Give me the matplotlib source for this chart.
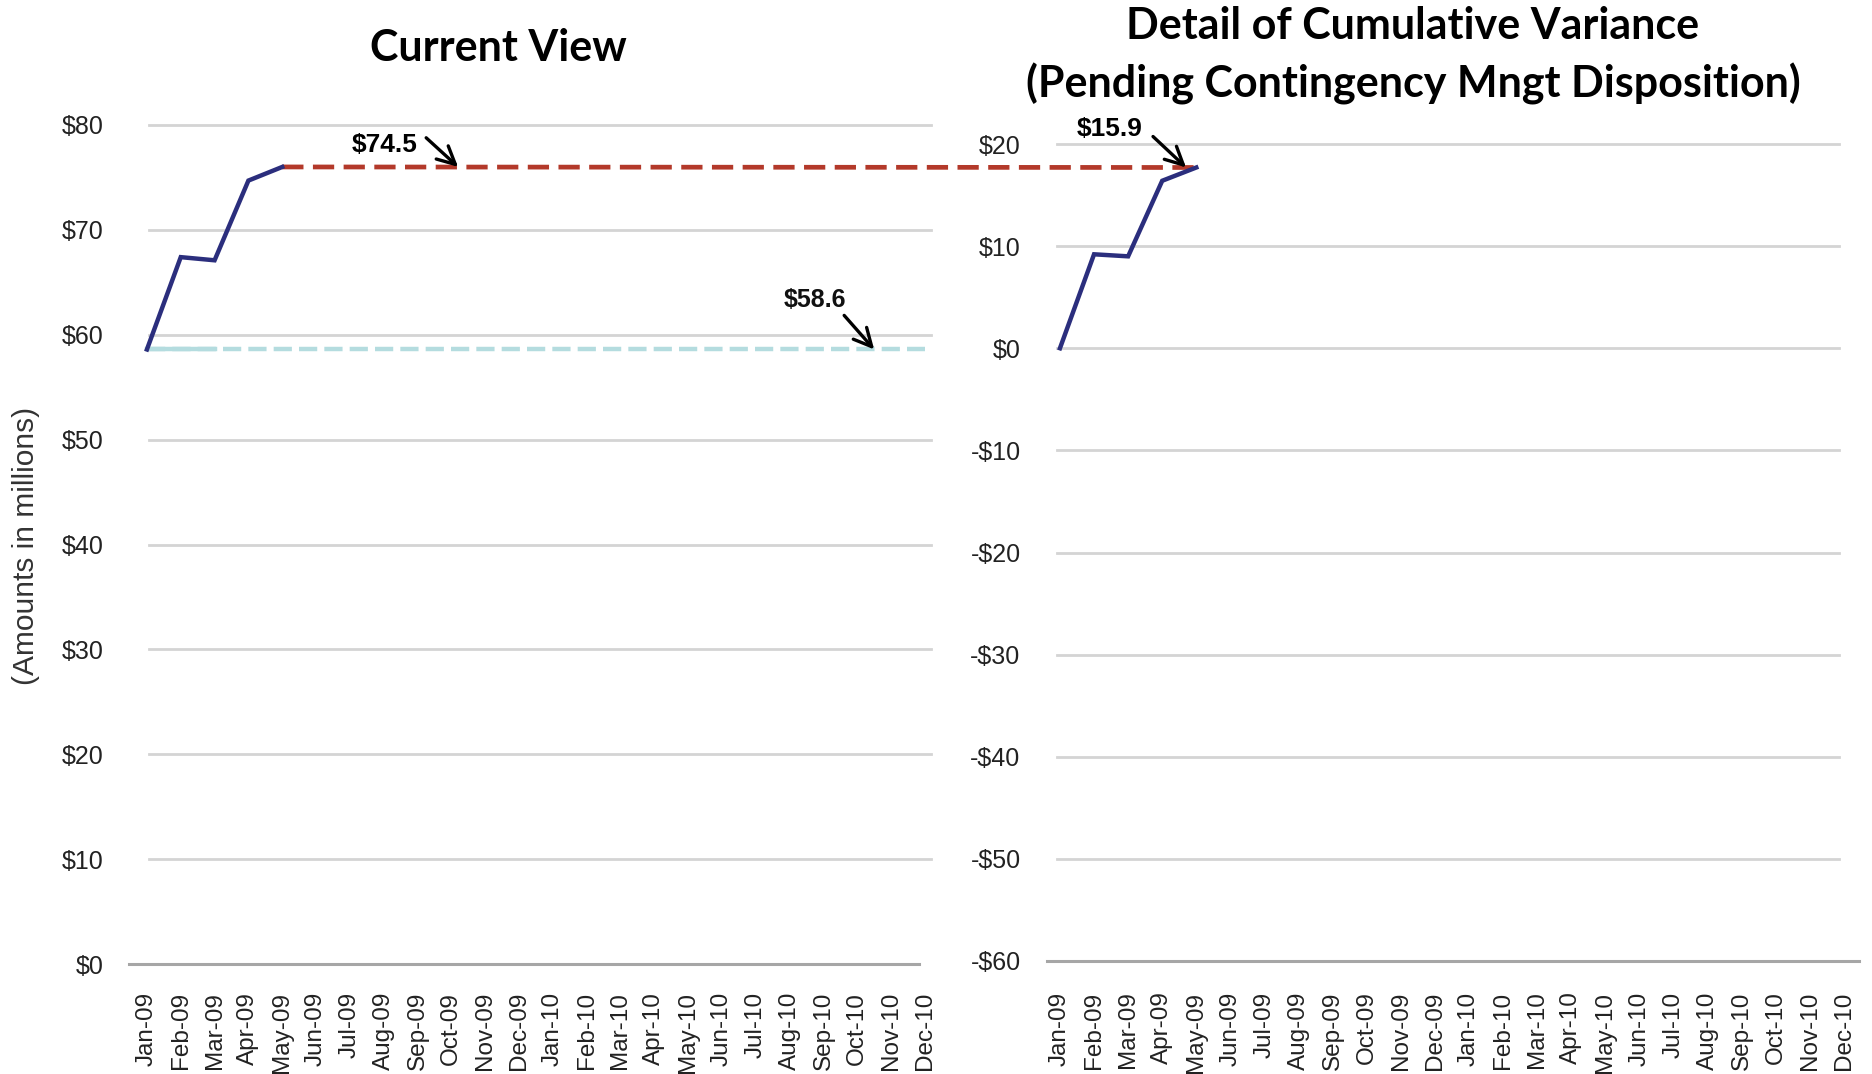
import matplotlib
matplotlib.use("Agg")
import matplotlib.pyplot as plt
from matplotlib.patches import ConnectionPatch

# ---------------- data ----------------
months = ["Jan-09", "Feb-09", "Mar-09", "Apr-09", "May-09", "Jun-09", "Jul-09", "Aug-09",
          "Sep-09", "Oct-09", "Nov-09", "Dec-09", "Jan-10", "Feb-10", "Mar-10", "Apr-10",
          "May-10", "Jun-10", "Jul-10", "Aug-10", "Sep-10", "Oct-10", "Nov-10", "Dec-10"]
current_view = [58.6, 67.4, 67.1, 74.7, 76.0]          # Jan-09 .. May-09
baseline = [58.6, 58.6, 58.6, 58.6, 58.6, 58.6, 58.6, 58.6, 58.6, 58.6, 58.6, 58.6,
            58.6, 58.6, 58.6, 58.6, 58.6, 58.6, 58.6, 58.6, 58.6, 58.6, 58.6, 58.6]
cum_variance = [0.0, 9.2, 9.0, 16.4, 17.7]             # Jan-09 .. May-09

left_ticks = [0, 10, 20, 30, 40, 50, 60, 70, 80]
left_ticklabels = ["$0", "$10", "$20", "$30", "$40", "$50", "$60", "$70", "$80"]
right_ticks = [-60, -50, -40, -30, -20, -10, 0, 10, 20]
right_ticklabels = ["-$60", "-$50", "-$40", "-$30", "-$20", "-$10", "$0", "$10", "$20"]

label_current = "$74.5"
label_baseline = "$58.6"
label_variance = "$15.9"

# ---------------- style ----------------
W, H = 1872, 1074
NAVY = "#2b2e7d"
RED = "#b3392a"
CYAN = "#b4dcdf"
GRID = "#d4d4d4"
AXIS = "#a6a6a6"
TXT = "#222222"
TICKFONT = ["Liberation Sans", "DejaVu Sans"]
TITLEFONT = ["Lato", "DejaVu Sans"]

fig = plt.figure(figsize=(W / 100, H / 100), dpi=100)
fig.patch.set_facecolor("white")

ax1 = fig.add_axes([129 / W, 1 - 964 / H, 802 / W, 839 / H])
ax2 = fig.add_axes([1047 / W, 1 - 961 / H, 812 / W, 817 / H])

for ax in (ax1, ax2):
    ax.patch.set_visible(False)
    for s in ax.spines.values():
        s.set_visible(False)
    ax.tick_params(length=0, colors=TXT)

# ---- left panel ----
ax1.set_xlim(-0.53, 23.18)
ax1.set_ylim(0, 80)
ax1.set_yticks(left_ticks, left_ticklabels, fontfamily=TICKFONT, fontsize=18)
ax1.set_xticks(range(len(months)), months, rotation=90, fontfamily=TICKFONT, fontsize=17.5)
ax1.tick_params(axis="y", pad=18)
ax1.tick_params(axis="x", pad=20)
for y in left_ticks[1:]:
    ax1.axhline(y, xmin=0.025, xmax=1.0, color=GRID, lw=2.0, zorder=1, clip_on=False)
ax1.axhline(0, xmin=0.0, xmax=0.985, color=AXIS, lw=2.2, zorder=1, clip_on=False)

ax1.plot(range(len(baseline)), baseline, color=CYAN, lw=3.2,
         linestyle=(0, (4.1, 1.6)), zorder=2, dash_capstyle="butt")
ax1.plot(range(3), baseline[:3], color=CYAN, lw=3.2, zorder=2, solid_capstyle="projecting")
ax1.plot(range(len(current_view)), current_view, color=NAVY, lw=3.2, zorder=4,
         solid_joinstyle="miter")

# ---- right panel ----
ax2.set_xlim(-0.38, 23.44)
ax2.set_ylim(-60, 20)
ax2.set_yticks(right_ticks, right_ticklabels, fontfamily=TICKFONT, fontsize=18)
ax2.set_xticks(range(len(months)), months, rotation=90, fontfamily=TICKFONT, fontsize=17.5)
ax2.tick_params(axis="y", pad=19)
ax2.tick_params(axis="x", pad=22)
for y in right_ticks[1:]:
    ax2.axhline(y, xmin=0.012, xmax=0.975, color=GRID, lw=2.0, zorder=1, clip_on=False)
ax2.axhline(-60, xmin=0.0, xmax=1.0, color=AXIS, lw=2.2, zorder=1, clip_on=False)
ax2.plot(range(len(cum_variance)), cum_variance, color=NAVY, lw=3.2, zorder=4,
         solid_joinstyle="miter")

# ---- red dashed connector: current-view level carried into the detail panel ----
last = len(current_view) - 1
con = ConnectionPatch(xyA=(last, current_view[last]), coordsA=ax1.transData,
                      xyB=(last, cum_variance[last]), coordsB=ax2.transData,
                      color=RED, lw=3.4, linestyle=(0, (4.5, 2.0)), capstyle="butt")
con.set_zorder(-1)
fig.add_artist(con)

# ---- annotations ----
arrow = dict(arrowstyle="->", color="black", lw=2.4, mutation_scale=32,
             shrinkA=0, shrinkB=0)
ann_font = ["Liberation Sans Narrow", "Liberation Sans", "DejaVu Sans"]

ax1.annotate("", xy=(9.2, current_view[last]), xytext=(-23, 21),
             textcoords="offset points", arrowprops=arrow, zorder=6)
ax1.annotate(label_current, xy=(9.2, current_view[last]), xytext=(-52.6, 15.8),
             textcoords="offset points", ha="center", va="center",
             fontsize=19, fontweight="bold", fontfamily=ann_font, color="black")

ax1.annotate("", xy=(21.5, baseline[-1]), xytext=(-21.6, 24.5),
             textcoords="offset points", arrowprops=arrow, zorder=6)
ax1.annotate(label_baseline, xy=(21.5, baseline[-1]), xytext=(-42.5, 35.3),
             textcoords="offset points", ha="center", va="center",
             fontsize=18, fontweight="bold", fontfamily=ann_font, color="#111111")

ax2.annotate("", xy=(3.7, cum_variance[last]), xytext=(-23.8, 22.3),
             textcoords="offset points", arrowprops=arrow, zorder=6)
ax2.annotate(label_variance, xy=(3.7, cum_variance[last]), xytext=(-54.7, 27.4),
             textcoords="offset points", ha="center", va="center",
             fontsize=19, fontweight="bold", fontfamily=ann_font, color="black")

# ---- titles and axis label ----
fig.text(498 / W, 1 - 48 / H, "Current View", ha="center", va="center",
         fontsize=31, fontweight="bold", fontfamily=TITLEFONT, color="black")
fig.text(1413 / W, 1 - 26 / H, "Detail of Cumulative Variance", ha="center", va="center",
         fontsize=31, fontweight="bold", fontfamily=TITLEFONT, color="black")
fig.text(1413 / W, 1 - 84 / H, "(Pending Contingency Mngt Disposition)", ha="center",
         va="center", fontsize=31, fontweight="bold", fontfamily=TITLEFONT, color="black")
fig.text(26 / W, 1 - 546 / H, "(Amounts in millions)", rotation=90, ha="center",
         va="center", fontsize=21.5, fontfamily=TICKFONT, color="#333333")

fig.savefig("out.png", dpi=100, facecolor="white")
